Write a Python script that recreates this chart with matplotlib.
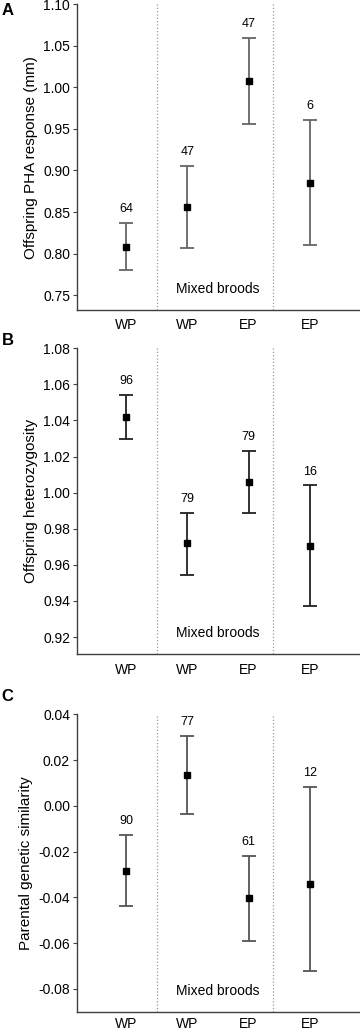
import numpy as np
import matplotlib.pyplot as plt

plt.rcParams['font.family'] = ['Liberation Sans', 'DejaVu Sans']

# group labels on the x axis
groups = ['WP', 'WP', 'EP', 'EP']
xpos = np.arange(1, 5)

# A: offspring PHA response (mm)
pha_mean = [0.808, 0.856, 1.008, 0.885]
pha_low = [0.780, 0.807, 0.956, 0.810]
pha_high = [0.837, 0.905, 1.060, 0.961]
pha_n = [64, 47, 47, 6]

# B: offspring heterozygosity
het_mean = [1.042, 0.972, 1.006, 0.9705]
het_low = [1.030, 0.9545, 0.989, 0.937]
het_high = [1.054, 0.989, 1.023, 1.004]
het_n = [96, 79, 79, 16]

# C: parental genetic similarity
sim_mean = [-0.0283, 0.0135, -0.0402, -0.0342]
sim_low = [-0.044, -0.0035, -0.059, -0.0723]
sim_high = [-0.0126, 0.0304, -0.0218, 0.0082]
sim_n = [90, 77, 61, 12]

panels = [
    ('A', 'Offspring PHA response (mm)', pha_mean, pha_low, pha_high, pha_n,
     (0.732, 1.10), np.arange(0.75, 1.101, 0.05), '#666666'),
    ('B', 'Offspring heterozygosity', het_mean, het_low, het_high, het_n,
     (0.9104, 1.08), np.arange(0.92, 1.081, 0.02), '#222222'),
    ('C', 'Parental genetic similarity', sim_mean, sim_low, sim_high, sim_n,
     (-0.090, 0.04), np.arange(-0.08, 0.041, 0.02), '#555555'),
]

# axes boxes in figure fraction [left, bottom, width, height]
boxes = [
    [0.214, 0.7008, 0.786, 0.2949],
    [0.214, 0.3684, 0.786, 0.2954],
    [0.214, 0.0235, 0.786, 0.2870],
]
label_y = [0.990, 0.671, 0.328]
xpads = [6, 6, 4]

fig = plt.figure(figsize=(3.6, 10.36), dpi=100)

for (tag, ylab, mean, low, high, n, ylim, ticks, ecol), box, ly, xp in zip(panels, boxes, label_y, xpads):
    ax = fig.add_axes(box)
    mean = np.array(mean)
    yerr = [mean - np.array(low), np.array(high) - mean]
    ax.errorbar(xpos, mean, yerr=yerr, fmt='s', color='black', ms=4.5,
                ecolor=ecol, elinewidth=1.3, capsize=5, capthick=1.3, zorder=3)
    for x, h, k in zip(xpos, high, n):
        ax.annotate(str(k), (x, h), xytext=(0, 10), textcoords='offset points',
                    ha='center', va='center', fontsize=9)

    ax.axvline(1.5, color='#999999', ls=':', lw=0.9)
    ax.axvline(3.4, color='#999999', ls=':', lw=0.9)
    ax.text(2.5, 0.07, 'Mixed broods', transform=ax.get_xaxis_transform(),
            ha='center', va='center', fontsize=10)

    ax.set_xlim(0.2, 4.82)
    ax.set_ylim(*ylim)
    ax.set_yticks(ticks)
    ax.set_yticklabels([('%.2f' % t).replace('-0.00', '0.00') for t in ticks], fontsize=10)
    ax.set_xticks(xpos)
    ax.set_xticklabels(groups, fontsize=10)
    ax.tick_params(axis='x', length=0, pad=xp)
    ax.tick_params(axis='y', length=3, width=0.8, color='#404040', pad=2)
    ax.spines['top'].set_visible(False)
    ax.spines['right'].set_visible(False)
    ax.spines['left'].set_bounds(ylim[0], ticks[-1])
    for s in ('left', 'bottom'):
        ax.spines[s].set_color('#404040')
        ax.spines[s].set_linewidth(1.0)
    ax.set_ylabel(ylab, fontsize=11, labelpad=4)
    fig.text(0.005, ly, tag, fontsize=12, fontweight='bold', ha='left', va='center')

fig.savefig('out.png', dpi=100)
